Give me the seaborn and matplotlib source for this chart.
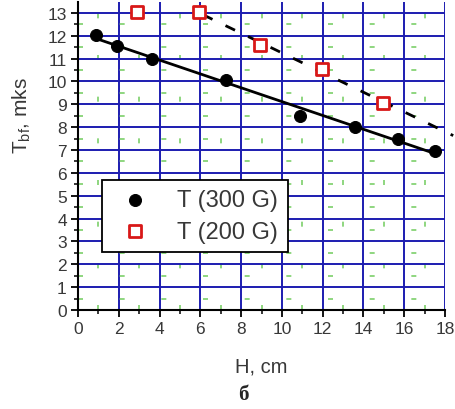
import numpy as np
import pandas as pd
import matplotlib
matplotlib.use("Agg")
import matplotlib.pyplot as plt
from matplotlib.ticker import MultipleLocator
import seaborn as sns

# data
h_300 = [0.87, 1.93, 3.64, 7.25, 10.88, 13.6, 15.7, 17.5]
t_300 = [12.02, 11.54, 11.0, 10.04, 8.48, 8.0, 7.49, 6.97]
h_200 = [2.88, 5.93, 8.92, 11.95, 14.97]
t_200 = [13.04, 13.04, 11.58, 10.56, 9.05]
labels = ["T (300 G)", "T (200 G)"]
x_ticks = [0, 2, 4, 6, 8, 10, 12, 14, 16, 18]
y_ticks = list(range(0, 14))

sns.set_theme(style="white")
plt.rcParams['font.family'] = ['Liberation Sans', 'DejaVu Sans']
plt.rcParams['mathtext.fontset'] = 'custom'
plt.rcParams['mathtext.rm'] = 'Liberation Sans'

fig = plt.figure(figsize=(4.56, 4.10), dpi=100)
ax = fig.add_axes([0.171, 0.2415, 0.805, 0.751])

# grid
ax.xaxis.set_major_locator(MultipleLocator(2))
ax.xaxis.set_minor_locator(MultipleLocator(1))
ax.yaxis.set_major_locator(MultipleLocator(1))
ax.yaxis.set_minor_locator(MultipleLocator(0.5))
ax.grid(which='major', color='#1c1cb0', linewidth=1.4)
ax.grid(which='minor', color='#7ccf6a', linewidth=1.2, linestyle=(0, (3, 22)))
ax.set_axisbelow(True)

# fit lines
p1 = np.polyfit(h_300, t_300, 1)
xs1 = np.array([h_300[0], h_300[-1]])
sns.lineplot(x=xs1, y=np.polyval(p1, xs1), ax=ax, color='black', linewidth=2, zorder=3)
p2 = np.polyfit(h_200[1:], t_200[1:], 1)
xs2 = np.array([h_200[1] + 0.2, 18.4])
ax.plot(xs2, np.polyval(p2, xs2), color='black', linewidth=2,
        linestyle=(0, (3.8, 5.2)), zorder=3, clip_on=False)

df1 = pd.DataFrame({"H": h_300, "T": t_300})
df2 = pd.DataFrame({"H": h_200, "T": t_200})
sns.scatterplot(data=df1, x="H", y="T", ax=ax, marker='o', s=75, color='black',
                edgecolor='black', label=labels[0], zorder=4, clip_on=False)
sns.scatterplot(data=df2, x="H", y="T", ax=ax, marker='s', s=75, facecolor='white',
                edgecolor='#d81818', linewidth=2, label=labels[1], zorder=4, clip_on=False)

ax.set_xlim(0, 18)
ax.set_ylim(0, 13.47)
ax.set_xticks(x_ticks)
ax.set_yticks(y_ticks)

for s in ['top', 'right']:
    ax.spines[s].set_visible(False)
for s in ['left', 'bottom']:
    ax.spines[s].set_color('black')
    ax.spines[s].set_linewidth(1.5)
ax.tick_params(which='major', direction='out', length=5, width=1.3, color='black',
               labelsize=12.5, labelcolor='#383838', bottom=True, left=True, pad=3)
ax.tick_params(which='minor', direction='out', length=3, width=1.1, color='black',
               bottom=True, left=True)

ax.set_xlabel("H, cm", fontsize=14.5, color='#383838', labelpad=15)
ax.set_ylabel(r"T$_{\mathrm{bf}}$, mks", fontsize=15, color='#383838')
ax.yaxis.set_label_coords(-0.123, 0.636)

leg = ax.legend(loc='lower left', bbox_to_anchor=(0.065, 0.188), borderaxespad=0,
                fontsize=17, frameon=True, fancybox=False, edgecolor='black', framealpha=1,
                handletextpad=0.8, borderpad=0.4, labelspacing=0.4, markerscale=1.0)
leg.get_frame().set_linewidth(1.3)
for t in leg.get_texts():
    t.set_color('#383838')

fig.text(0.533, 0.037, "б", fontsize=15, fontweight='bold', family='Liberation Serif',
         ha='center', va='center')

fig.savefig("out.png", dpi=100)
